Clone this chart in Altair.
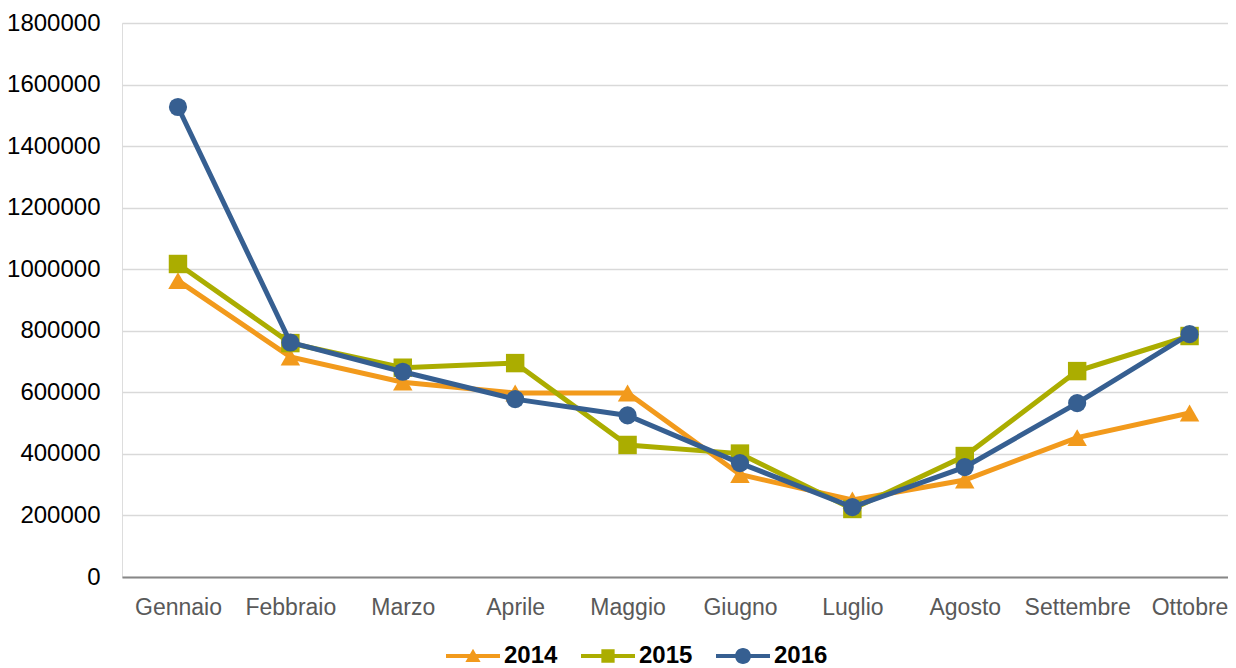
import altair as alt
import pandas as pd

months = ["Gennaio", "Febbraio", "Marzo", "Aprile", "Maggio", "Giugno",
          "Luglio", "Agosto", "Settembre", "Ottobre"]
years = ["2014", "2015", "2016"]
v2014 = [963000, 715000, 633000, 598000, 598000, 333000, 250000, 315000, 453000, 533000]
v2015 = [1017000, 760000, 680000, 695000, 429000, 401000, 221000, 393000, 669000, 783000]
v2016 = [1527000, 762000, 667000, 578000, 525000, 370000, 227000, 357000, 565000, 789000]
colors = ["#F29A1C", "#ABAD00", "#365F91"]
y_ticks = [0, 200000, 400000, 600000, 800000, 1000000, 1200000, 1400000, 1600000, 1800000]

rows = []
for k, (yr, vals) in enumerate(zip(years, [v2014, v2015, v2016])):
    for i, (m, v) in enumerate(zip(months, vals)):
        rows.append({"Mese": m, "idx": i, "Anno": yr, "Valore": v, "ord": k})
df = pd.DataFrame(rows)

FONT = "Liberation Sans"
label_expr = "[" + ",".join("'%s'" % m for m in months) + "][datum.value]"

x_enc = alt.X("idx:Q",
              scale=alt.Scale(domain=[-0.498, 9.342], nice=False, zero=False),
              axis=alt.Axis(title=None, values=list(range(len(months))), labelExpr=label_expr,
                            labelAngle=0, labelFontSize=23, labelFont=FONT,
                            labelColor="#595959", ticks=False, tickSize=0, labelPadding=19,
                            labelFlush=False, labelOverlap=False, labelBound=False,
                            domainColor="#878787", domainWidth=2, grid=False))
y_enc = alt.Y("Valore:Q",
              scale=alt.Scale(domain=[0, 1800000], nice=False, zero=True),
              axis=alt.Axis(title=None, values=y_ticks, format="d", labelFontSize=24,
                            labelFont=FONT, labelColor="#000000", ticks=False, tickSize=0,
                            labelPadding=22, domain=False, gridColor="#D9D9D9",
                            gridWidth=1.5))

base = alt.Chart(df)

marker_shapes = ["triangle-up", "square", "circle"]
marker_sizes = [380, 340, 330]
series_layers = []
for yr, shp, sz, col in zip(years, marker_shapes, marker_sizes, colors):
    sub = base.transform_filter(alt.datum.Anno == yr)
    series_layers.append(
        sub.mark_line(strokeWidth=5, color=col).encode(
            x=x_enc, y=y_enc, order=alt.Order("idx:Q"))
    )
    series_layers.append(
        sub.mark_point(filled=True, opacity=1, strokeWidth=0, shape=shp, size=sz, color=col)
        .encode(x=x_enc, y=y_enc)
    )

legend_paths = [
    "M-3.375,-0.25H3.375V0.25H-3.375Z M0,-0.9L0.95,0.75L-0.95,0.75Z",
    "M-3.375,-0.25H3.375V0.25H-3.375Z M-0.83,-0.83H0.83V0.83H-0.83Z",
    "M-3.375,-0.25H3.375V0.25H-3.375Z M-1,0A1,1 0 1,1 1,0A1,1 0 1,1 -1,0Z",
]

leg = alt.Legend(title=None, orient="none", direction="horizontal",
                 legendX=339, legendY=621,
                 symbolSize=256, symbolOpacity=1, symbolStrokeWidth=0,
                 labelFont=FONT, labelFontSize=24,
                 labelFontWeight="bold", labelColor="#000000",
                 labelOffset=19, columnPadding=23, padding=0)

legend_layer = base.mark_point(filled=True, opacity=0, size=256).encode(
    x=x_enc, y=y_enc,
    color=alt.Color("Anno:N", scale=alt.Scale(domain=years, range=colors), legend=leg),
    shape=alt.Shape("Anno:N", scale=alt.Scale(domain=years, range=legend_paths), legend=leg),
)

chart = alt.layer(*series_layers, legend_layer).properties(
    width=1106, height=554,
    autosize=alt.AutoSizeParams(type="none"),
    padding={"left": 114, "top": 15, "right": 0, "bottom": 91},
).configure_view(strokeWidth=0, stroke="transparent").configure(background="white")

chart.save("out.html", embed_options={"renderer": "svg", "actions": False})
